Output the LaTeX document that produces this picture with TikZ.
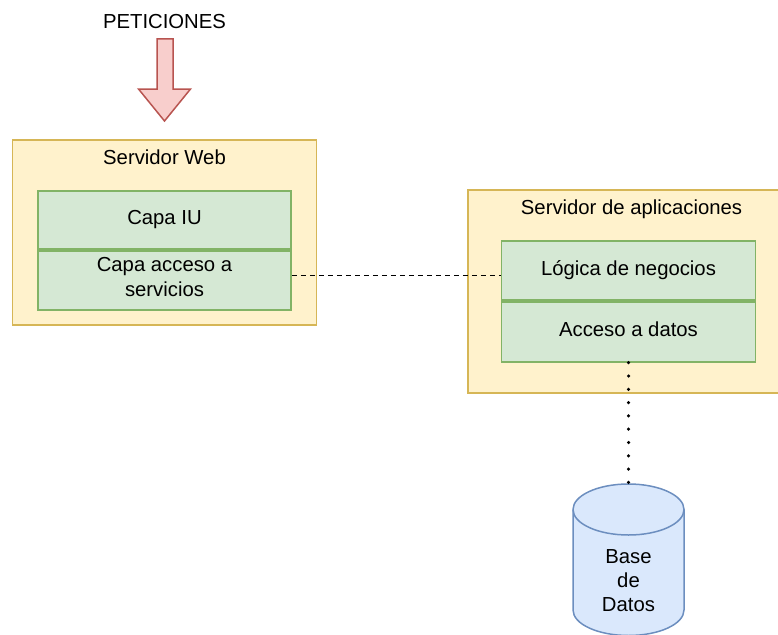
\documentclass[tikz,border=0pt]{standalone}
\usepackage{fontspec}
\setmainfont{Liberation Sans}
\usepackage{tikz}
\definecolor{servfill}{HTML}{FFF2CC}
\definecolor{servrand}{HTML}{D6B656}
\definecolor{capafill}{HTML}{D5E8D4}
\definecolor{caparand}{HTML}{82B366}
\definecolor{dbfill}{HTML}{DAE8FC}
\definecolor{dbrand}{HTML}{6C8EBF}
\definecolor{pfeilfill}{HTML}{F8CECC}
\definecolor{pfeilrand}{HTML}{B85450}

\begin{document}
\begin{tikzpicture}[x=1pt, y=-1pt,
				servidor/.style={draw=servrand, fill=servfill, line width=1.8pt, inner sep=0pt},
				capa/.style={draw=caparand, fill=capafill, line width=1.8pt, inner sep=0pt, align=center, minimum width=253pt},
				titel/.style={inner sep=0pt, text height=13.5pt, text depth=4pt},
				font=\fontsize{20.3}{25}\selectfont]
				%Bildbereich
				\clip (0,0) rectangle (778,634);
				% Eingang
				\node[titel] (peticiones) at (164.5,24) {PETICIONES};
				\draw[draw=pfeilrand, fill=pfeilfill, line width=1.5pt, line join=miter]
					(157,39) -- (173,39) -- (173,89) -- (190.5,89) -- (164.5,121) -- (138.5,89) -- (157,89) -- cycle;
				% Servidor Web
				\node[servidor, minimum width=304pt, minimum height=185pt] (web) at (164.5,232.5) {};
				\node[titel] (webtitel) at (164.5,160) {Servidor Web};
				\node[capa, minimum height=58pt] (iu) at (164.5,220) {Capa IU};
				\node[capa, minimum height=59pt, text depth=7pt, anchor=north] (acs) at (iu.south) {Capa acceso a\\servicios};
				% Servidor de aplicaciones
				\node[servidor, minimum width=332pt, minimum height=203pt] (app) at (634,291.5) {};
				\node[titel] (apptitel) at (631.5,210) {Servidor de aplicaciones};
				\node[capa, minimum width=254pt, minimum height=59pt] (logica) at (628.5,270.5) {L\'ogica de negocios};
				\node[capa, titel, minimum width=254pt, minimum height=60pt, anchor=north] (acceso) at (logica.south) {Acceso a datos};
				% Datenbank (Zylinder)
				\draw[draw=dbrand, fill=dbfill, line width=1.5pt]
					(573,509.5) -- (573,610) arc[start angle=180, end angle=0, x radius=55.5, y radius=25.5]
					-- (684,509.5) arc[start angle=0, end angle=-180, x radius=55.5, y radius=25.5] -- cycle;
				\draw[draw=dbrand, line width=1.5pt] (573,509.5) arc[start angle=180, end angle=0, x radius=55.5, y radius=25.5];
				\coordinate (dboben) at (628.5,484);
				\node[inner sep=0pt, align=center, font=\fontsize{20.3}{24}\selectfont] (db) at (628.5,581) {Base\\de\\Datos};
				% Verbindungen
				\path (acs.east) -- (logica.west) coordinate[midway] (mitte);
				\draw[line width=1.6pt, dash pattern=on 5pt off 4pt] (acs.east |- mitte) -- (logica.west |- mitte);
				\draw[line width=3.5pt, line cap=round, dash pattern=on 0pt off 13.3pt] (acceso.south) -- (dboben);
			\end{tikzpicture}
\end{document}
